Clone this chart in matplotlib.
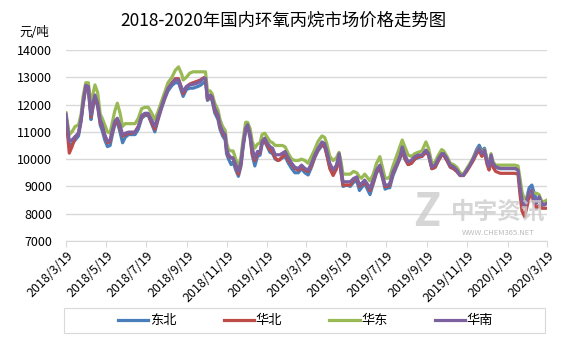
import pandas as pd
import matplotlib.pyplot as plt
from matplotlib.patches import Rectangle

plt.rcParams['font.family'] = ['Noto Sans CJK SC', 'DejaVu Sans']

start = pd.Timestamp("2018-03-19")

# days since 2018/3/19
days = [0, 5, 9, 14, 19, 23, 26, 30, 34, 38, 41, 44, 48, 52, 55, 59, 63, 67, 70, 74,
        78, 82, 86, 90, 95, 100, 105, 110, 115, 120, 125, 130, 135, 140, 145, 150, 155, 161, 166, 171,
        176, 178, 183, 188, 193, 199, 204, 209, 212, 215, 219, 222, 226, 231, 234, 238, 242, 244, 247, 251,
        254, 258, 262, 266, 269, 273, 276, 280, 283, 287, 291, 295, 298, 302, 306, 310, 314, 318, 322, 325,
        329, 333, 338, 343, 348, 353, 358, 363, 368, 373, 378, 383, 389, 393, 396, 401, 406, 411, 415, 418,
        421, 427, 432, 437, 442, 446, 449, 454, 459, 462, 467, 472, 477, 481, 485, 489, 492, 497, 503, 508,
        511, 515, 520, 525, 530, 535, 541, 547, 551, 556, 561, 566, 571, 574, 579, 584, 589, 594, 599, 604,
        609, 614, 619, 624, 628, 632, 636, 640, 643, 646, 649, 653, 660, 667, 675, 682, 687, 690, 693, 697,
        700, 704, 708, 711, 715, 719, 723, 727, 731]

dongbei = [11600, 10500, 10550, 10700, 10850, 11400, 12000, 12600, 12550, 11450, 11900, 12250, 11950, 11250, 11050, 10700, 10460, 10500, 10850, 11250,
           11350, 11000, 10600, 10800, 10900, 10900, 10900, 11100, 11500, 11600, 11600, 11300, 11000, 11450, 11850, 12200, 12500, 12700, 12800, 12800,
           12450, 12300, 12550, 12600, 12600, 12650, 12700, 12800, 12850, 12150, 12250, 12150, 11700, 11450, 11100, 10850, 10700, 10200, 10000, 9800,
           9900, 9600, 9370, 9750, 10400, 11050, 11200, 10750, 10150, 9750, 10100, 10150, 10550, 10650, 10450, 10250, 10200, 10000, 9950, 10000,
           10050, 10100, 9850, 9650, 9500, 9500, 9650, 9500, 9420, 9700, 10050, 10300, 10500, 10450, 10200, 9700, 9450, 9650, 10100, 9500,
           9000, 9050, 9000, 9150, 9200, 8850, 8950, 9100, 8850, 8700, 9100, 9500, 9650, 9300, 8900, 8950, 8950, 9400, 9750, 10050,
           10300, 10000, 9800, 9850, 10000, 10050, 10100, 10300, 10150, 9650, 9700, 9950, 10150, 10150, 9950, 9700, 9650, 9550, 9400, 9400,
           9600, 9800, 10050, 10350, 10510, 10300, 10400, 9950, 9750, 10100, 9800, 9700, 9650, 9650, 9650, 9650, 9650, 8900, 8400, 8300,
           8550, 8950, 9050, 8800, 8500, 8500, 8300, 8350, 8450]

huabei = [11550, 10220, 10450, 10800, 10950, 11450, 12050, 12650, 12600, 11550, 11950, 12300, 12000, 11350, 11200, 10850, 10600, 10650, 10950, 11300,
          11450, 11150, 10850, 10900, 10950, 10950, 11000, 11200, 11550, 11650, 11650, 11350, 11100, 11500, 11900, 12250, 12600, 12800, 12950, 12950,
          12550, 12400, 12650, 12750, 12800, 12850, 12900, 12980, 13000, 12200, 12300, 12250, 11800, 11550, 11200, 10950, 10800, 10350, 10100, 10050,
          10050, 9750, 9450, 9850, 10500, 11100, 11250, 10850, 10200, 9950, 10200, 10250, 10600, 10700, 10500, 10350, 10250, 10050, 9950, 9970,
          10100, 10200, 9950, 9800, 9650, 9600, 9700, 9600, 9550, 9750, 10100, 10350, 10550, 10500, 10200, 9650, 9400, 9650, 10150, 9550,
          9050, 9050, 9050, 9250, 9300, 9000, 9050, 9150, 9000, 8850, 9150, 9550, 9700, 9350, 9000, 9000, 9050, 9500, 9800, 10100,
          10400, 10050, 9800, 9850, 10000, 10100, 10100, 10250, 10150, 9650, 9700, 9950, 10150, 10150, 9950, 9720, 9650, 9550, 9400, 9400,
          9550, 9750, 9950, 10200, 10300, 10100, 10250, 9800, 9600, 10050, 9700, 9550, 9480, 9480, 9480, 9480, 9450, 8700, 8100, 7890,
          8200, 8600, 8700, 8400, 8200, 8300, 8200, 8200, 8200]

huadong = [11700, 10900, 11000, 11200, 11250, 11650, 12300, 12800, 12800, 11900, 12400, 12720, 12450, 11650, 11500, 11250, 11000, 10950, 11300, 11750,
           12050, 11700, 11200, 11300, 11300, 11300, 11300, 11500, 11850, 11900, 11900, 11700, 11450, 11750, 12100, 12450, 12800, 13000, 13250, 13380,
           13100, 12900, 13000, 13150, 13200, 13200, 13200, 13200, 13200, 12500, 12500, 12400, 12050, 11800, 11450, 11200, 11050, 10600, 10350, 10300,
           10300, 10000, 9700, 10100, 10700, 11350, 11350, 11100, 10650, 10400, 10550, 10600, 10900, 10950, 10800, 10650, 10600, 10500, 10500, 10500,
           10500, 10450, 10200, 10000, 9950, 9950, 10000, 9950, 9850, 10100, 10350, 10650, 10850, 10800, 10600, 10100, 9950, 10050, 10250, 9900,
           9450, 9450, 9450, 9550, 9500, 9350, 9300, 9450, 9300, 9200, 9450, 9850, 10090, 9700, 9300, 9300, 9350, 9750, 10150, 10500,
           10700, 10450, 10150, 10100, 10200, 10250, 10300, 10630, 10400, 9850, 9900, 10150, 10350, 10300, 10100, 9850, 9800, 9700, 9500, 9450,
           9650, 9850, 10050, 10300, 10400, 10250, 10350, 10000, 9800, 10200, 9900, 9780, 9780, 9780, 9780, 9780, 9750, 9300, 8800, 8500,
           8600, 8750, 8850, 8750, 8750, 8700, 8450, 8450, 8500]

huanan = [11650, 10650, 10700, 10830, 10950, 11500, 12100, 12700, 12660, 11620, 12050, 12350, 12050, 11440, 11260, 10890, 10650, 10700, 11010, 11380,
          11500, 11260, 10890, 10950, 10990, 10990, 10990, 11200, 11600, 11680, 11680, 11440, 11200, 11560, 11930, 12290, 12600, 12780, 12900, 12900,
          12600, 12480, 12660, 12720, 12740, 12780, 12840, 12960, 12960, 12230, 12350, 12290, 11870, 11620, 11260, 11010, 10890, 10400, 10160, 10040,
          10040, 9790, 9550, 9910, 10520, 11130, 11260, 10890, 10400, 10040, 10280, 10280, 10650, 10770, 10590, 10460, 10400, 10160, 10160, 10160,
          10220, 10280, 10040, 9850, 9700, 9660, 9780, 9660, 9600, 9840, 10150, 10390, 10630, 10570, 10330, 9840, 9600, 9780, 10200, 9720,
          9170, 9170, 9170, 9290, 9350, 9050, 9110, 9230, 9050, 8930, 9230, 9600, 9780, 9410, 9050, 9050, 9110, 9540, 9840, 10150,
          10450, 10150, 9900, 9960, 10090, 10150, 10150, 10330, 10200, 9720, 9780, 10020, 10200, 10200, 10020, 9780, 9720, 9600, 9410, 9410,
          9600, 9780, 10020, 10270, 10390, 10200, 10330, 9900, 9720, 10150, 9840, 9720, 9660, 9660, 9660, 9660, 9600, 8990, 8500, 8260,
          8500, 8800, 8870, 8500, 8380, 8620, 8380, 8320, 8380]

names = ["东北", "华北", "华东", "华南"]
colors = ["#4a7ebb", "#be4b48", "#98b954", "#7d60a0"]
tick_dates = ["2018-03-19", "2018-05-19", "2018-07-19", "2018-09-19", "2018-11-19", "2019-01-19", "2019-03-19",
              "2019-05-19", "2019-07-19", "2019-09-19", "2019-11-19", "2020-01-19", "2020-03-19"]

dates = [start + pd.Timedelta(days=d) for d in days]

fig = plt.figure(figsize=(5.67, 3.41), dpi=100)
ax = fig.add_axes([0.1164, 0.2933, 0.8483, 0.5601])

for name, vals, c in zip(names, [dongbei, huabei, huadong, huanan], colors):
    ax.plot(dates, vals, color=c, lw=2.3, label=name, solid_joinstyle="round")

ax.set_ylim(7000, 14000)
ax.set_yticks(range(7000, 14001, 1000))
ax.set_xlim(pd.Timestamp("2018-03-19"), pd.Timestamp("2020-03-19"))
ticks = pd.to_datetime(tick_dates)
ax.set_xticks(ticks)
ax.set_xticklabels([f"{t.year}/{t.month}/{t.day}" for t in ticks], rotation=45, ha="right",
                   rotation_mode="anchor", fontsize=9)
ax.tick_params(axis="y", length=0, labelsize=9, pad=10)
ax.tick_params(axis="x", length=4, color="#d9d9d9", width=0.8, pad=2)
ax.grid(axis="y", color="#d9d9d9", lw=1)
ax.set_axisbelow(True)
for s in ["top", "left", "right"]:
    ax.spines[s].set_visible(False)
ax.spines["bottom"].set_color("#d9d9d9")

fig.text(0.5, 0.94, "2018-2020年国内环氧丙烷市场价格走势图", ha="center", va="center", fontsize=12.5)
fig.text(0.035, 0.905, "元/吨", ha="left", va="center", fontsize=9)

# watermark
fig.text(0.752, 0.375, "Z", fontsize=32, fontweight="bold", style="italic", color="#cccccc", alpha=0.8,
         ha="center", va="center")
fig.text(0.878, 0.380, "中宇资讯", fontsize=17, fontweight="bold", color="#cccccc", alpha=0.8,
         ha="center", va="center")
fig.text(0.878, 0.318, "WWW.CHEM365.NET", fontsize=5.5, color="#bbbbbb", ha="center", va="center")

# legend box
fig.patches.append(Rectangle((64 / 567, 1 - 333 / 341), 481 / 567, 25 / 341, transform=fig.transFigure,
                             fill=False, edgecolor="#d9d9d9", lw=0.8))
fig.legend(loc="center", bbox_to_anchor=(0.539, 0.059), ncol=4, frameon=False, fontsize=9.5,
           handlelength=2.3, columnspacing=3.6, handletextpad=0.1)

fig.savefig("out.png", dpi=100)
